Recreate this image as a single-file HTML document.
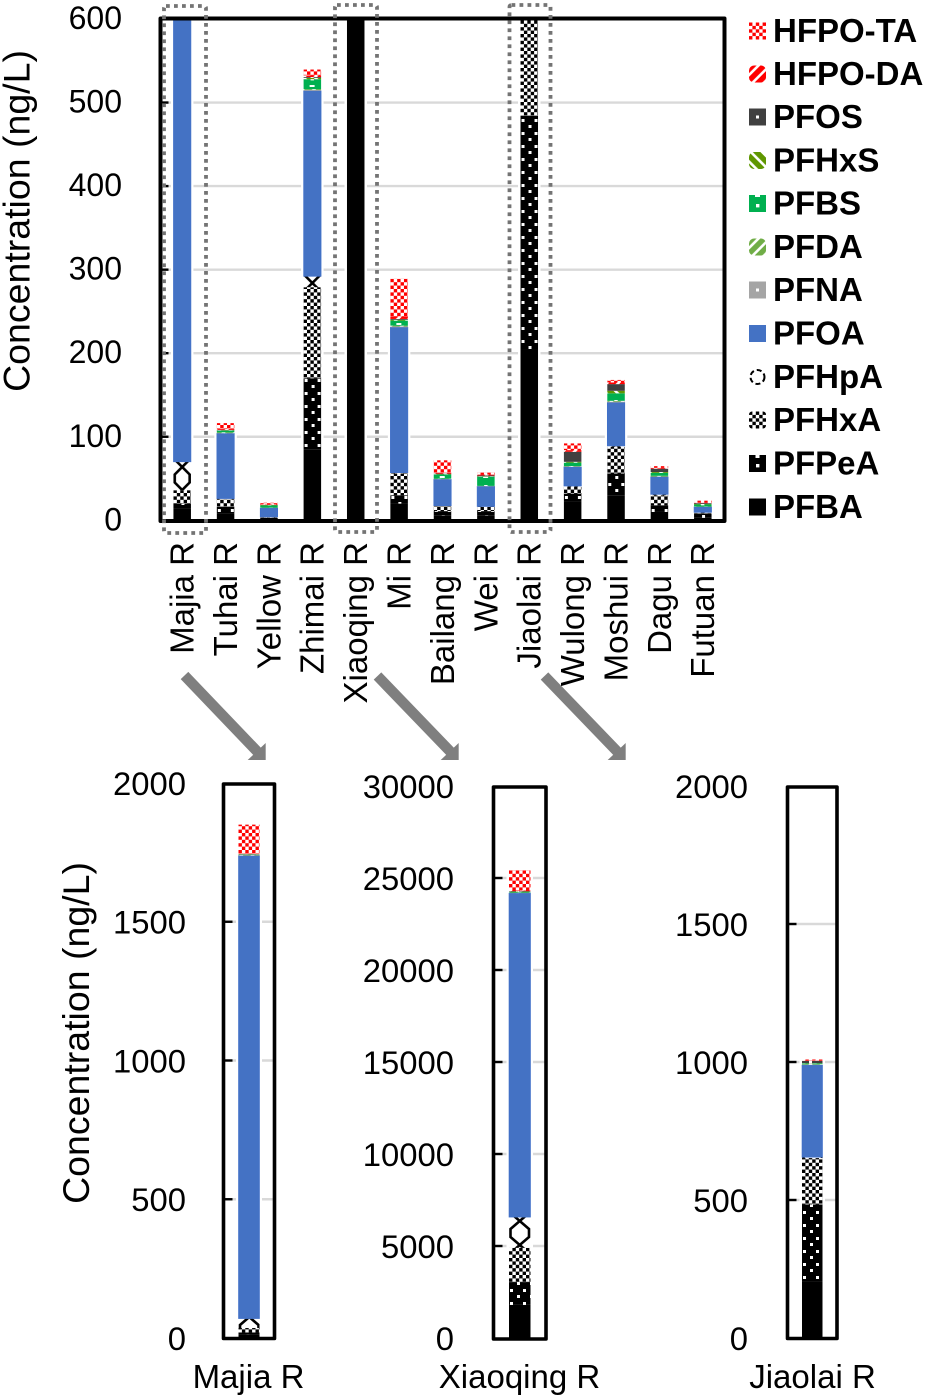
<!DOCTYPE html>
<html lang="en">
<head>
<meta charset="utf-8">
<title>PFAS concentration by river</title>
<style>
html,body{margin:0;padding:0;background:#fff;}
#figure{display:block;width:926px;height:1400px;font-family:"Liberation Sans",Arial,sans-serif;}
</style>
</head>
<body>
<svg id="figure" xmlns="http://www.w3.org/2000/svg" width="926" height="1400" viewBox="0 0 926 1400">
<defs>
  <pattern id="p-pfpea" patternUnits="userSpaceOnUse" width="13" height="13">
    <rect width="13" height="13" fill="#000"/>
    <rect x="1" y="2" width="3" height="3" fill="#fff"/>
    <rect x="8" y="8" width="3" height="3" fill="#fff"/>
  </pattern>
  <pattern id="p-pfhxa" patternUnits="userSpaceOnUse" width="6.8" height="6.8">
    <rect width="6.8" height="6.8" fill="#fff"/>
    <rect width="3.4" height="3.4" fill="#000"/>
    <rect x="3.4" y="3.4" width="3.4" height="3.4" fill="#000"/>
  </pattern>
  <pattern id="p-pfhpa" patternUnits="userSpaceOnUse" width="17.5" height="23" patternTransform="translate(0 7)">
    <rect width="17.5" height="23" fill="#fff"/>
    <path d="M8.75 0 L1.3 7.5 L1.3 15.5 L8.75 23 L16.2 15.5 L16.2 7.5 Z" fill="none" stroke="#000" stroke-width="2.6"/>
  </pattern>
  <pattern id="p-pfhpa-inset" patternUnits="userSpaceOnUse" width="21.5" height="24" patternTransform="translate(0 -3)">
    <rect width="21.5" height="24" fill="#fff"/>
    <path d="M10.75 0 L1.5 8 L1.5 16 L10.75 24 L20 16 L20 8 Z" fill="none" stroke="#000" stroke-width="2.6"/>
  </pattern>
  <pattern id="p-pfna" patternUnits="userSpaceOnUse" width="17" height="17">
    <rect width="17" height="17" fill="#a5a5a5"/>
    <rect x="7" y="7" width="3" height="3" fill="#fff"/>
  </pattern>
  <pattern id="p-pfda" patternUnits="userSpaceOnUse" width="8" height="8" patternTransform="rotate(-45)">
    <rect width="8" height="8" fill="#fff"/>
    <rect width="8" height="5.4" fill="#70ad47"/>
  </pattern>
  <pattern id="p-pfbs" patternUnits="userSpaceOnUse" width="17" height="17">
    <rect width="17" height="17" fill="#00b050"/>
    <rect x="7" y="9" width="3.4" height="3.4" fill="#fff"/>
    <rect x="6" y="0" width="5" height="2" fill="#fff"/>
  </pattern>
  <pattern id="p-pfhxs" patternUnits="userSpaceOnUse" width="8" height="8" patternTransform="rotate(45)">
    <rect width="8" height="8" fill="#fff"/>
    <rect width="8" height="5.4" fill="#5f9600"/>
  </pattern>
  <pattern id="p-pfos" patternUnits="userSpaceOnUse" width="17" height="17">
    <rect width="17" height="17" fill="#404040"/>
    <rect x="7" y="7" width="3" height="3" fill="#fff"/>
  </pattern>
  <pattern id="p-da" patternUnits="userSpaceOnUse" width="8" height="8" patternTransform="rotate(-45)">
    <rect width="8" height="8" fill="#fff"/>
    <rect width="8" height="5.4" fill="#ff0000"/>
  </pattern>
  <pattern id="p-ta" patternUnits="userSpaceOnUse" width="6.8" height="6.8">
    <rect width="6.8" height="6.8" fill="#fff"/>
    <rect width="3.4" height="3.4" fill="#ff0000"/>
    <rect x="3.4" y="3.4" width="3.4" height="3.4" fill="#ff0000"/>
  </pattern>
  <pattern id="lg-pfpea" patternUnits="userSpaceOnUse" width="17" height="17">
    <rect width="17" height="17" fill="#000"/>
    <rect x="6.5" y="0" width="4" height="3" fill="#fff"/>
    <rect x="7" y="9" width="3.4" height="3.4" fill="#fff"/>
  </pattern>
  <pattern id="lg-pfhpa" patternUnits="userSpaceOnUse" width="17" height="17">
    <rect width="17" height="17" fill="#fff"/>
    <circle cx="8.5" cy="8.5" r="7" fill="none" stroke="#000" stroke-width="2" stroke-dasharray="5 3"/>
  </pattern>
</defs>
<g id="charts"></g>
<g id="legend"></g>
<g id="overlays"></g>
</svg>
<script>
// ---- data (ng/L), per river ----
const categories = ["Majia R","Tuhai R","Yellow R","Zhimai R","Xiaoqing R","Mi R","Bailang R","Wei R","Jiaolai R","Wulong R","Moshui R","Dagu R","Futuan R"];
const PFBA    = [14, 8, 1.5, 85, 1800, 20, 6, 6, 205, 22, 30, 10, 3];
const PFPeA   = [6, 8, 1.5, 85, 1240, 10, 5, 5, 279, 10, 26, 8, 5];
const PFHxA   = [16, 9, 0.5, 109, 1860, 26, 6, 5, 168, 8, 32, 12, 1];
const PFHpA   = [34, 1, 0.5, 13, 1670, 1, 0.5, 0.5, 3, 1, 1, 1, 0.5];
const PFOA    = [1668, 78, 10.7, 222, 17610, 174, 31.5, 24.1, 334, 23, 52, 21, 6.5];
const PFNA    = [1, 0.3, 0.2, 1, 10, 1, 0.3, 0.3, 1, 0.5, 1, 0.3, 0.2];
const PFDA    = [2, 1, 0.3, 1, 20, 1, 0.5, 0.3, 2, 0.5, 1, 1, 0.3];
const PFBS    = [1, 2, 2.5, 12, 30, 6, 5, 11, 3, 4, 9, 3.5, 2.5];
const PFHxS   = [1, 0.5, 0.5, 1.5, 20, 1, 0.5, 0.5, 1, 1, 3, 1, 0.5];
const PFOS    = [1, 0.5, 0.3, 1, 30, 1, 0.5, 1, 8, 12, 8, 4, 1];
const HFPO_DA = [1, 1, 0.5, 2, 30, 3, 1, 1, 1, 2, 2, 1, 0.5];
const HFPO_TA = [105, 7, 2, 7, 1100, 45, 15, 2.5, 4, 8, 3, 2, 2.5];

const seriesNames = ["PFBA","PFPeA","PFHxA","PFHpA","PFOA","PFNA","PFDA","PFBS","PFHxS","PFOS","HFPO-DA","HFPO-TA"];
const seriesValues = [PFBA,PFPeA,PFHxA,PFHpA,PFOA,PFNA,PFDA,PFBS,PFHxS,PFOS,HFPO_DA,HFPO_TA];
const seriesFills = ["#000000","url(#p-pfpea)","url(#p-pfhxa)","url(#p-pfhpa)","#4472c4","url(#p-pfna)","url(#p-pfda)","url(#p-pfbs)","url(#p-pfhxs)","url(#p-pfos)","url(#p-da)","url(#p-ta)"];
const legendFills = ["#000000","url(#lg-pfpea)","url(#p-pfhxa)","url(#lg-pfhpa)","#4472c4","url(#p-pfna)","url(#p-pfda)","url(#p-pfbs)","url(#p-pfhxs)","url(#p-pfos)","url(#p-da)","url(#p-ta)"];
const legendRadii = [0,0,3,0,0,0,5,0,5,0,5,0];

const mainTicks = [0,100,200,300,400,500,600];
const majiaTicks = [0,500,1000,1500,2000];
const xiaoqingTicks = [0,5000,10000,15000,20000,25000,30000];
const jiaolaiTicks = [0,500,1000,1500,2000];

const NS = "http://www.w3.org/2000/svg";
function make(tag, attrs, parent, text) {
  const node = document.createElementNS(NS, tag);
  for (const key in attrs) node.setAttribute(key, attrs[key]);
  if (text !== undefined) node.textContent = text;
  parent.appendChild(node);
  return node;
}
function slug(s) { return s.toLowerCase().replace(/[^a-z0-9]+/g, '-'); }

const chartsLayer = document.getElementById('charts');

// Draw one stacked chart. frame: outline box; y0/yTop: pixel extent of axis range
function drawChart(o) {
  const g = make('g', {}, chartsLayer);
  
  
  const yMax = o.ticks[o.ticks.length - 1];
  const yScale = v => o.y0 - (Math.min(v, yMax) / yMax) * (o.y0 - o.yTop);
  const step = (o.right - o.left) / o.indices.length;
  const xScale = i => o.left + step * (i + 0.5);

  // gridlines
  o.ticks.forEach(t => {
    if (t === 0 || t === yMax) return;
    const grid = make('line', {x1:o.left, x2:o.right, y1:yScale(t), y2:yScale(t), stroke:'#d9d9d9', 'stroke-width':2.4}, g);
    
    
  });

  // stacked bars
  o.indices.forEach((catIndex, pos) => {
    const bar = make('g', {}, g);
    
    
    const cx = xScale(pos);
    const bx = cx - o.barWidth / 2;
    let total = 0;
    seriesValues.forEach(vals => { total += vals[catIndex]; });
    const halo = make('rect', {x:bx - 2.5, y:yScale(total), width:o.barWidth + 5, height:o.y0 - yScale(total), fill:'#fff'}, bar);
    
    
    let cum = 0;
    seriesValues.forEach((vals, s) => {
      const low = cum;
      cum += vals[catIndex];
      const yA = yScale(cum), yB = yScale(low);
      if (yB - yA <= 0) return;
      let fill = seriesFills[s];
      if (s === 3 && o.hpaFill) fill = o.hpaFill;
      const seg = make('rect', {x:0, y:yA, width:o.barWidth, height:yB - yA, fill:fill, transform:'translate(' + bx + ' 0)'}, bar);
      if (seriesNames[s] === 'PFOA') { seg.setAttribute('stroke', '#3f6fca'); seg.setAttribute('stroke-width', '0.6'); }
      
      
    });
  });

  // frame
  const frame = make('rect', {x:o.left, y:o.frameTop, width:o.right - o.left, height:o.frameBottom - o.frameTop, fill:'none', stroke:'#000', 'stroke-width':o.frameWidth, 'stroke-linejoin':'round'}, g);
  
  

  // ticks and tick labels
  o.ticks.forEach(t => {
    if (t !== 0 && t !== yMax) {
      const tick = make('line', {x1:o.left, x2:o.left + o.tickLen, y1:yScale(t), y2:yScale(t), stroke:'#000', 'stroke-width':2.4}, g);
      
      
    }
    const lab = make('text', {x:o.labelX, y:yScale(t) + o.labelFont * 0.36 + (o.labelShift || 0), 'text-anchor':'end', 'font-size':o.labelFont, fill:'#000'}, g, String(t));
    
    
  });

  // category labels
  if (o.rotatedLabels) {
    o.indices.forEach((catIndex, pos) => {
      const bx = xScale(pos) + 11.4;
      const lab = make('text', {x:bx, y:542, 'text-anchor':'end', 'font-size':33, fill:'#000', transform:'rotate(-90 ' + bx + ' 542)'}, g, categories[catIndex]);
      
      
    });
  } else {
    const lab = make('text', {x:o.captionX, y:1388, 'text-anchor':'middle', 'font-size':33, fill:'#000'}, g, categories[o.indices[0]]);
    
    
  }

  // axis title
  if (o.titleX) {
    const tl = make('text', {x:o.titleX, y:o.titleY, 'text-anchor':'middle', 'font-size':37.5, fill:'#000', transform:'rotate(-90 ' + o.titleX + ' ' + o.titleY + ')'}, g, 'Concentration (ng/L)');
    
    
  }
}

drawChart({name:'main-chart', indices:categories.map((c, i) => i), ticks:mainTicks, left:160.5, right:724.5, frameTop:18.5, frameBottom:521, y0:520.3, yTop:19, barWidth:17.5, tickLen:8, frameWidth:4, labelX:122, labelFont:32, labelShift:-1.5, rotatedLabels:true, titleX:29.5, titleY:221});
drawChart({name:'majia-inset-chart', indices:[0], ticks:majiaTicks, left:223.5, right:274.5, frameTop:784, frameBottom:1338.5, y0:1338, yTop:783, barWidth:21, tickLen:9, frameWidth:3.6, labelX:186, labelFont:32.8, captionX:248.5, titleX:89, titleY:1033, hpaFill:'url(#p-pfhpa-inset)'});
drawChart({name:'xiaoqing-inset-chart', indices:[4], ticks:xiaoqingTicks, left:493.5, right:546, frameTop:787, frameBottom:1339, y0:1338, yTop:786, barWidth:21.5, tickLen:9, frameWidth:3.6, labelX:454, labelFont:32.8, captionX:519.5, hpaFill:'url(#p-pfhpa-inset)'});
drawChart({name:'jiaolai-inset-chart', indices:[8], ticks:jiaolaiTicks, left:787.5, right:837, frameTop:787, frameBottom:1338.5, y0:1338, yTop:786, barWidth:20.5, tickLen:9, frameWidth:3.6, labelX:748, labelFont:32.8, captionX:812.5, hpaFill:'url(#p-pfhpa-inset)'});

// legend (top to bottom = reverse of the stack)
const legendLayer = document.getElementById('legend');
const legendCenters = [31,74,117,160.5,203.5,247,290,333.5,377,420,463.5,507];
seriesNames.slice().reverse().forEach((name, i) => {
  const idx = seriesNames.length - 1 - i;
  const cy = legendCenters[i];
  const entry = make('g', {}, legendLayer);
  
  
  const sw = make('rect', {x:0, y:0, width:17, height:17, rx:legendRadii[idx], fill:legendFills[idx], transform:'translate(749 ' + (cy - 8.5) + ')'}, entry);
  
  
  const label = make('text', {x:773, y:cy + 10.8, 'font-size':33, 'font-weight':'bold', fill:'#000'}, entry, name);
  
  
});

// dotted highlight boxes and arrows
const overlays = document.getElementById('overlays');
[["majia", 164, 6, 42, 527], ["xiaoqing", 335, 5, 42, 527], ["jiaolai", 509.5, 5, 41, 527]].forEach(b => {
  const r = make('rect', {x:b[1], y:b[2], width:b[3], height:b[4], rx:2, fill:'none', stroke:'#747474', 'stroke-width':3.8, 'stroke-dasharray':'3.8 4.2'}, overlays);
  
  
});
[["majia", 184.5, 675.5, 265.7], ["xiaoqing", 377.5, 676, 458.7], ["jiaolai", 544.5, 676, 625.7]].forEach(a => {
  const tipX = a[3], tipY = 760;
  const ar = make('g', {fill:'#7f7f7f', stroke:'none'}, overlays);
  
  
  const shaft = make('line', {x1:a[1], y1:a[2], x2:tipX - 8, y2:tipY - 8, stroke:'#7f7f7f', 'stroke-width':10.5}, ar);
  
  
  const head = make('polygon', {points:tipX + ',' + tipY + ' ' + tipX + ',' + (tipY - 17) + ' ' + (tipX - 18) + ',' + tipY}, ar);
  
  
});
</script>
</body>
</html>
